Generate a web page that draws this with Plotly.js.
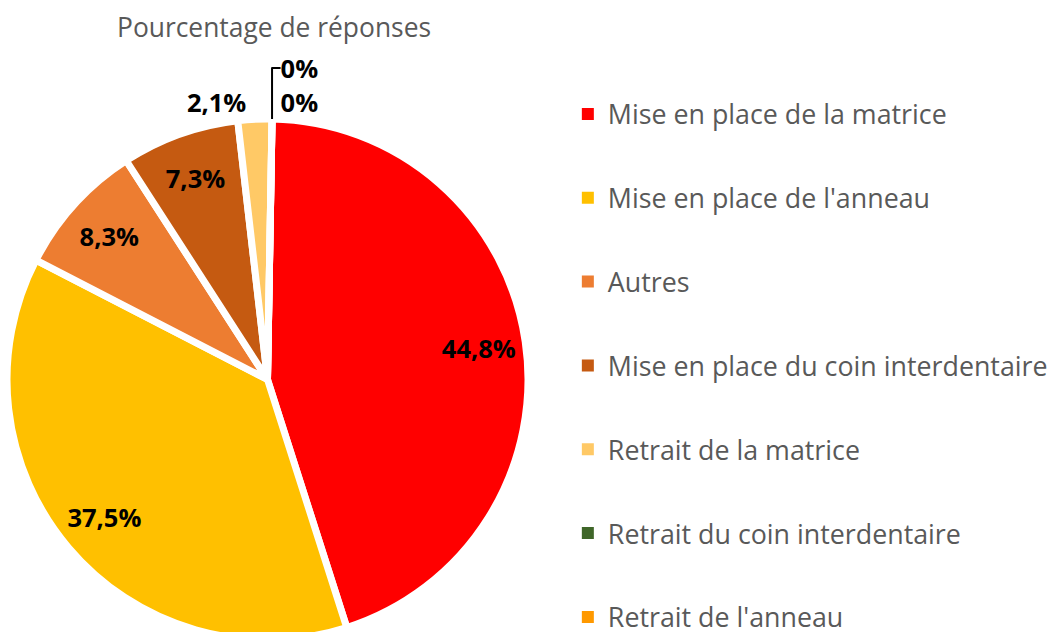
<!DOCTYPE html>
<html>
<head>
<meta charset="utf-8">
<script src="https://cdn.plot.ly/plotly-3.0.1.min.js"></script>
<style>
html,body{margin:0;padding:0;overflow:hidden;background:#fff;}
#chart{width:1053px;height:641px;}
</style>
</head>
<body>
<div id="chart"></div>
<script>
const categories = [
  "Mise en place de la matrice",
  "Mise en place de l'anneau",
  "Autres",
  "Mise en place du coin interdentaire",
  "Retrait de la matrice",
  "Retrait du coin interdentaire",
  "Retrait de l'anneau"
];
const percentages = [44.8, 37.5, 8.3, 7.3, 2.1, 0, 0];
const colors = ["#FF0000", "#FFC000", "#ED7D31", "#C55A11", "#FFC966", "#3F6629", "#FF9900"];
const chartTitle = "Pourcentage de réponses";

const FONT = "'Open Sans', sans-serif";
const W = 1053, H = 641;
const M = {l: 7, r: 0, t: 118, b: 0};
const pieDomain = {x: [0, (H - M.t - M.b) / (W - M.l - M.r)], y: [0, 1]};
const ROT = 1;

// main pie: slices with white gaps, no text
const pie = {
  type: 'pie',
  labels: categories,
  values: percentages,
  sort: false,
  direction: 'clockwise',
  rotation: ROT,
  showlegend: false,
  marker: {colors: colors, line: {color: '#ffffff', width: 7}},
  textinfo: 'none',
  hoverinfo: 'label+percent',
  domain: pieDomain
};

// transparent ring over the pie that only carries the data labels
const labelRing = {
  type: 'pie',
  labels: categories,
  values: percentages,
  sort: false,
  direction: 'clockwise',
  rotation: ROT,
  hole: 0.64,
  showlegend: false,
  marker: {colors: categories.map(() => 'rgba(0,0,0,0)'), line: {width: 0}},
  textposition: percentages.map(v => v >= 5 ? 'inside' : 'outside'),
  texttemplate: percentages.map(v => Number.isInteger(v) ? '%{value:.0f}%' : '%{value:.1f}%'),
  insidetextorientation: 'horizontal',
  textfont: {family: FONT, size: 25.5, color: '#000000', weight: 'bold'},
  outsidetextfont: {family: FONT, size: 25.5, color: '#000000', weight: 'bold'},
  hoverinfo: 'skip',
  domain: pieDomain
};

const legendTraces = categories.map((c, i) => ({
  type: 'scatter',
  mode: 'markers',
  x: [null], y: [null],
  name: c,
  legendgroup: 'g' + i,
  showlegend: true,
  marker: {symbol: 'square', size: 12, color: colors[i]},
  hoverinfo: 'skip'
}));

const layout = {
  width: W,
  height: H,
  margin: M,
  paper_bgcolor: '#ffffff',
  plot_bgcolor: '#ffffff',
  separators: ', ',
  font: {family: FONT, color: '#595959'},
  title: {
    text: chartTitle,
    font: {family: FONT, size: 26.4, color: '#595959'},
    xref: 'container', yref: 'container',
    x: 117 / W, xanchor: 'left',
    y: 1 - 28 / H, yanchor: 'middle'
  },
  xaxis: {visible: false},
  yaxis: {visible: false},
  showlegend: true,
  legend: {
    x: (570 - M.l) / (W - M.l - M.r), xanchor: 'left',
    y: 1 + (M.t - 94) / (H - M.t - M.b), yanchor: 'top',
    font: {family: FONT, size: 26.8, color: '#595959'},
    tracegroupgap: 46,
    maxheight: 640,
    itemclick: false, itemdoubleclick: false,
    bgcolor: 'rgba(0,0,0,0)'
  }
};

Plotly.newPlot('chart', [pie, labelRing].concat(legendTraces), layout, {displayModeBar: false});
</script>
</body>
</html>
